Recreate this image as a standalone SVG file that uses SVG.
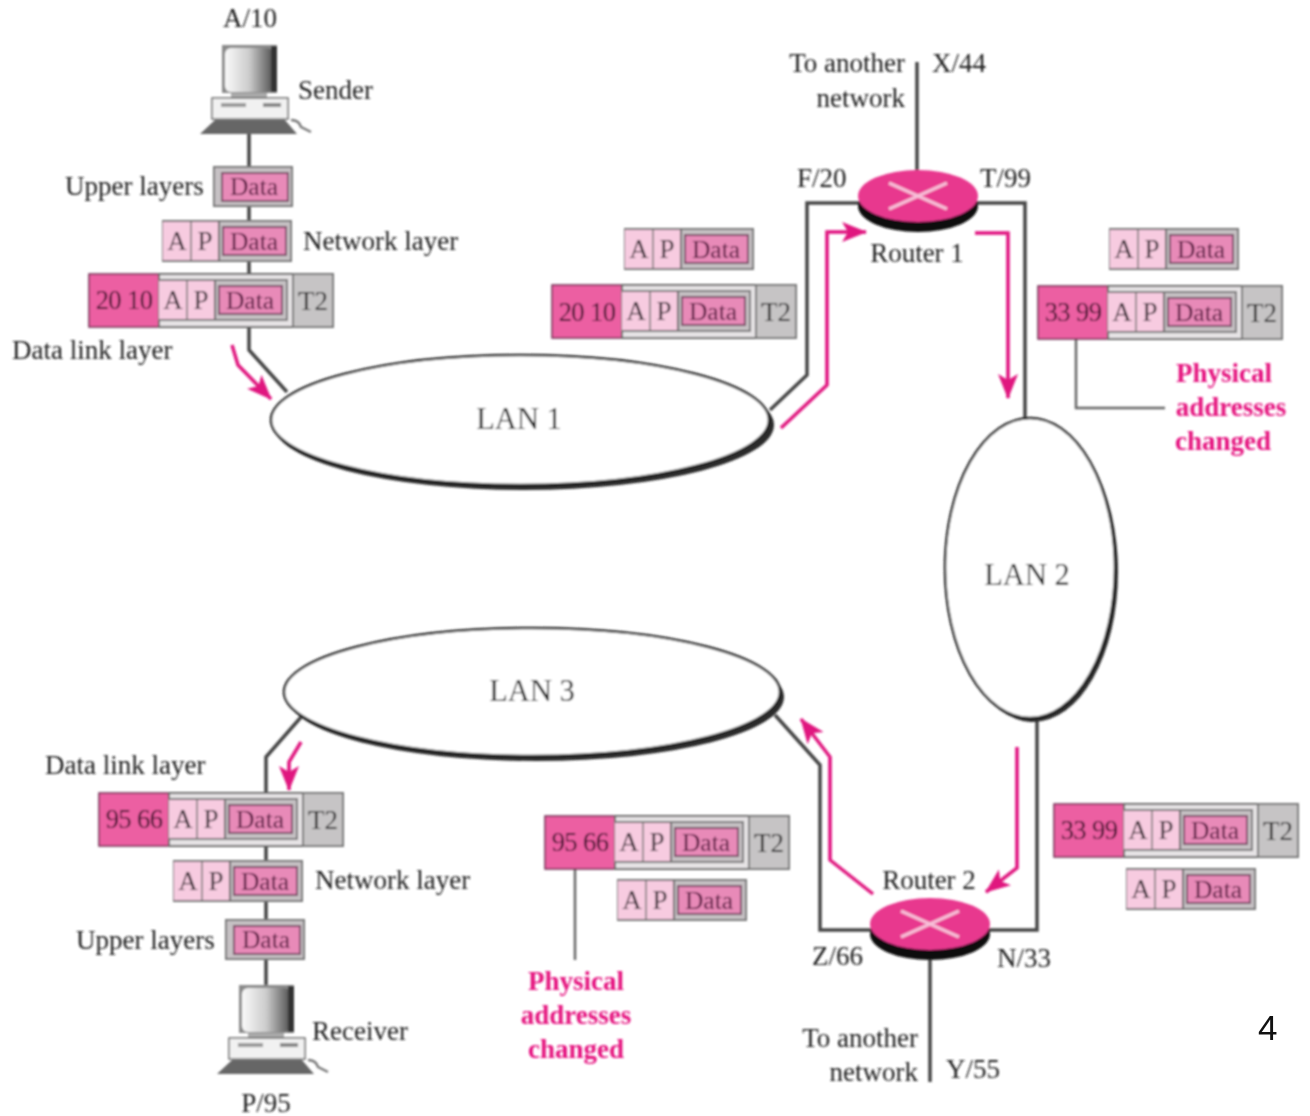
<svg xmlns="http://www.w3.org/2000/svg" width="1310" height="1116" viewBox="0 0 1310 1116">
<style>
text{font-family:"Liberation Serif","Times New Roman",serif;font-size:27px;fill:#1e1e1e}
.c{text-anchor:middle}.e{text-anchor:end}
.cell{font-size:27px;fill:#33262e;text-anchor:middle}
.data{font-size:25.5px;fill:#52103a;text-anchor:middle}
.t2{font-size:27px;fill:#1e1e1e;text-anchor:middle}
.addr{font-size:26.5px;fill:#300a20;text-anchor:middle;letter-spacing:-.6px}
.lan{font-size:30.5px;text-anchor:middle;fill:#0c0c0c}
.note{font-weight:bold;fill:#e5127f;text-anchor:middle}
.wire{fill:none;stroke:#444;stroke-width:3.5}
.thin{fill:none;stroke:#666;stroke-width:2.5}
.flow{fill:none;stroke:#e0157f;stroke-width:3.5;marker-end:url(#ah)}
.lanshape{fill:#fff;stroke:#222;stroke-width:2.5}
.shadow{fill:#2c2c2c}
.frame{fill:#c6c1c4;stroke:#777;stroke-width:2}
.light{fill:#f7cbe0}
.dark{fill:#e88ab8;stroke:#7a4a66;stroke-width:2}
.hdr{fill:#ec5fa2;stroke:#6b2a4d;stroke-width:1.5}
.mid{fill:#e6e3e5;stroke:#666;stroke-width:2}
.tr{fill:#c6c4c5;stroke:#777;stroke-width:2}
.rt{fill:#e8378e}.rb{fill:#111}.rx{stroke:#f7bfd8;stroke-width:3.5;fill:none}
</style>
<defs>
<filter id="soft" x="-2%" y="-2%" width="104%" height="104%"><feGaussianBlur stdDeviation="0.9"/></filter>
<marker id="ah" markerUnits="userSpaceOnUse" markerWidth="28" markerHeight="22" refX="24" refY="10" orient="auto"><path d="M0 0L25 10L0 20L6 10Z" fill="#e0157f"/></marker>
<linearGradient id="scr" x1="0" x2="1"><stop offset="0" stop-color="#fafafa"/><stop offset=".5" stop-color="#ccc"/><stop offset="1" stop-color="#555"/></linearGradient>
<g id="updata"><rect class="frame" width="78" height="39"/><rect class="dark" x="8" y="6" width="66" height="28"/><text class="data" x="40" y="28">Data</text></g>
<g id="ap"><rect class="frame" width="128" height="40"/><rect class="light" x="0" y="1" width="56" height="38"/><line x1="28" y1="1" x2="28" y2="39" stroke="#777" stroke-width="1.5"/><line x1="56" y1="1" x2="56" y2="39" stroke="#666" stroke-width="2"/><rect class="dark" x="60" y="6" width="63" height="28"/><text class="cell" x="14" y="29">A</text><text class="cell" x="42" y="29">P</text><text class="data" x="91" y="29">Data</text></g>
<g id="dll"><rect class="hdr" width="70" height="53"/><rect class="mid" x="70" width="134" height="53"/><rect class="tr" x="204" width="40" height="53"/><use href="#ap" x="70" y="6"/><text class="t2" x="224" y="36">T2</text></g>
<g id="pc"><rect x="-27" y="-45" width="55" height="48" fill="#8a8a8a"/><rect x="-24" y="-42" width="48" height="44" rx="6" fill="url(#scr)"/><rect x="22" y="-44" width="6" height="46" fill="#333"/><rect x="-18" y="3" width="36" height="5" fill="#aaa"/><rect x="-37" y="8" width="76" height="21" fill="#f1f1f1" stroke="#666" stroke-width="1.5"/><rect x="-28" y="13" width="25" height="4" fill="#999"/><rect x="14" y="13" width="18" height="4" fill="#888"/><path d="M-34 30H36L48 44H-49Z" fill="#666"/><path d="M42 30Q50 30 52 37L62 42" fill="none" stroke="#777" stroke-width="2.5"/></g>
</defs>
<rect width="1310" height="1116" fill="#fff"/>
<g filter="url(#soft)">
<g id="connectors">
<path class="wire" d="M249 130V350L287 392"/>
<path class="wire" d="M770 410L807 375V203H860"/>
<path class="wire" d="M976 203H1025V420"/>
<path class="wire" d="M1037 716V930H988"/>
<path class="wire" d="M872 930H820V765L775 715"/>
<path class="wire" d="M302 716L266 757V990"/>
<path class="wire" d="M917 62V175"/>
<path class="wire" d="M930 955V1082"/>
<path class="thin" d="M1076 338V408H1165"/>
<path class="thin" d="M575 868V960"/>
<path class="flow" d="M232 345L238 365L271 399"/>
<path class="flow" d="M781 428L827 385V232H866"/>
<path class="flow" d="M975 233H1008V398"/>
<path class="flow" d="M1017 747V868L986 892"/>
<path class="flow" d="M873 894L830 860V757L801 719"/>
<path class="flow" d="M301 742L289 762V790"/>
</g>
<g id="sender"><use href="#pc" x="249" y="90"/><text class="c" x="250" y="27">A/10</text><text x="298" y="99">Sender</text></g>
<g id="sender-stack">
<use href="#updata" x="214" y="167"/><text x="65" y="195">Upper layers</text>
<use href="#ap" x="163" y="221"/><text x="303" y="250">Network layer</text>
<use href="#dll" x="89" y="274"/><text class="addr" x="124" y="309">20 10</text><text x="12" y="359">Data link layer</text>
</g>
<g id="lan1"><ellipse class="shadow" cx="524" cy="425" rx="250" ry="65"/><ellipse class="lanshape" cx="520" cy="420" rx="249" ry="65"/><text class="lan" x="519" y="429">LAN 1</text></g>
<g id="lan2"><ellipse class="shadow" cx="1033" cy="572" rx="85" ry="150"/><ellipse class="lanshape" cx="1030" cy="568" rx="85" ry="150"/><text class="lan" x="1027" y="585">LAN 2</text></g>
<g id="lan3"><ellipse class="shadow" cx="536" cy="697" rx="248" ry="64"/><ellipse class="lanshape" cx="532" cy="692" rx="248" ry="64"/><text class="lan" x="532" y="701">LAN 3</text></g>
<g id="router1"><ellipse class="rb" cx="918" cy="206" rx="60" ry="26"/><ellipse class="rt" cx="918" cy="196" rx="60" ry="26"/><path class="rx" d="M889 183L947 209M947 183L889 209"/><text class="c" x="917" y="262">Router 1</text><text x="797" y="187">F/20</text><text x="980" y="187">T/99</text></g>
<g id="x44"><text class="e" x="905" y="72">To another</text><text class="e" x="905" y="107">network</text><text x="932" y="72">X/44</text></g>
<g id="packet-lan1"><use href="#ap" x="625" y="229"/><use href="#dll" x="552" y="285"/><text class="addr" x="587" y="321">20 10</text></g>
<g id="packet-lan2-top"><use href="#ap" x="1110" y="229"/><use href="#dll" x="1038" y="286"/><text class="addr" x="1073" y="321">33 99</text></g>
<g id="note-top"><text class="note" x="1224" y="382">Physical</text><text class="note" x="1231" y="416">addresses</text><text class="note" x="1223" y="450">changed</text></g>
<g id="packet-lan2-bottom"><use href="#dll" x="1054" y="804"/><text class="addr" x="1089" y="839">33 99</text><use href="#ap" x="1127" y="869"/></g>
<g id="router2"><ellipse class="rb" cx="930" cy="934" rx="60" ry="26"/><ellipse class="rt" cx="930" cy="924" rx="60" ry="26"/><path class="rx" d="M901 911L959 937M959 911L901 937"/><text class="c" x="929" y="889">Router 2</text><text x="812" y="965">Z/66</text><text x="997" y="967">N/33</text></g>
<g id="y55"><text class="e" x="918" y="1047">To another</text><text class="e" x="918" y="1081">network</text><text x="946" y="1078">Y/55</text></g>
<g id="packet-lan3"><use href="#dll" x="545" y="816"/><text class="addr" x="580" y="851">95 66</text><use href="#ap" x="618" y="880"/></g>
<g id="note-bottom"><text class="note" x="576" y="990">Physical</text><text class="note" x="576" y="1024">addresses</text><text class="note" x="576" y="1058">changed</text></g>
<g id="receiver-stack">
<use href="#dll" x="99" y="793"/><text class="addr" x="134" y="828">95 66</text><text x="45" y="774">Data link layer</text>
<use href="#ap" x="174" y="861"/><text x="315" y="889">Network layer</text>
<use href="#updata" x="226" y="920"/><text x="76" y="949">Upper layers</text>
</g>
<g id="receiver"><use href="#pc" x="266" y="1030"/><text x="312" y="1040">Receiver</text><text class="c" x="266" y="1112">P/95</text></g>
</g>
<text id="page" x="1258" y="1040" style="font-family:'Liberation Sans',Arial,sans-serif;font-size:35px;fill:#111">4</text>
</svg>
